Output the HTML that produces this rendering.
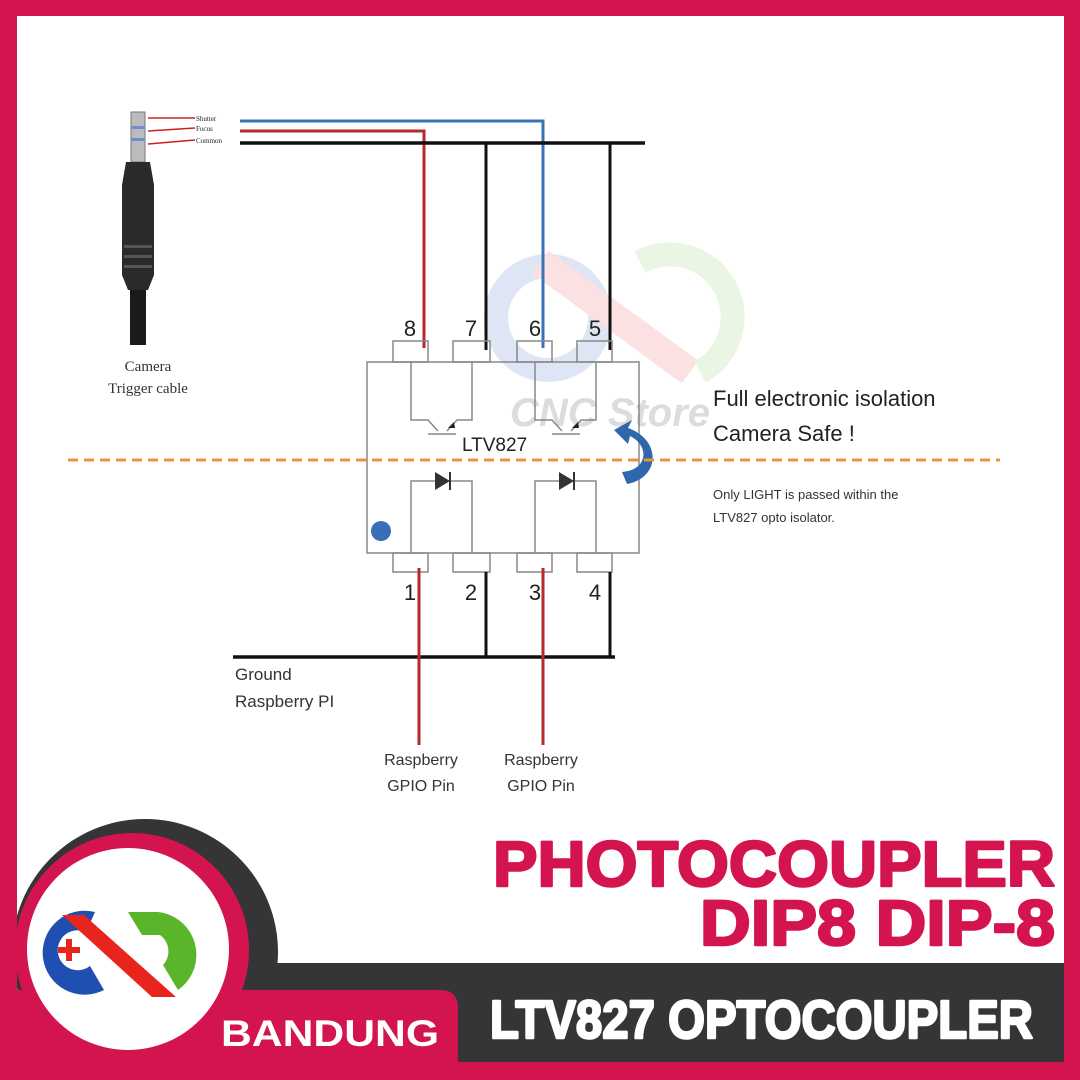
<!DOCTYPE html>
<html><head><meta charset="utf-8"><style>
html,body{margin:0;padding:0;}
body{width:1080px;height:1080px;position:relative;overflow:hidden;background:#fff;font-family:"Liberation Sans",sans-serif;}
svg{position:absolute;left:0;top:0;}
</style></head><body>
<svg width="1080" height="1080" viewBox="0 0 1080 1080">
<rect x="0" y="0" width="1080" height="1080" fill="#fff"/>
<!-- faint watermark -->
<g opacity="0.2">
<circle cx="548" cy="318" r="52" fill="none" stroke="#5d7fc9" stroke-width="24"/>
<path d="M540 262 L690 372" stroke="#f06f6f" stroke-width="28"/>
<path d="M640 262 A55 55 0 0 1 700 372" fill="none" stroke="#9bd27b" stroke-width="24"/>
<text x="510" y="426" font-size="40" font-weight="bold" fill="#555" font-style="italic">CNC Store</text>
</g>
<!-- jack -->
<rect x="131" y="112" width="14" height="50" fill="#bbb" stroke="#777"/>
<rect x="131" y="126" width="14" height="3" fill="#6a8ed0"/>
<rect x="131" y="138" width="14" height="3" fill="#6a8ed0"/>
<path d="M126 162 L150 162 L154 185 L154 275 L148 290 L128 290 L122 275 L122 185 Z" fill="#2a2a2a"/>
<g fill="#555"><rect x="124" y="245" width="28" height="3"/><rect x="124" y="255" width="28" height="3"/><rect x="124" y="265" width="28" height="3"/></g>
<rect x="130" y="290" width="16" height="55" fill="#1a1a1a"/>
<g stroke="#c22" stroke-width="1.5">
<line x1="148" y1="118" x2="195" y2="118"/><line x1="148" y1="131" x2="195" y2="128"/><line x1="148" y1="144" x2="195" y2="140"/>
</g>
<g font-size="7" font-family="Liberation Serif,serif" fill="#222"><text x="196" y="121">Shutter</text><text x="196" y="131">Focus</text><text x="196" y="143">Common</text></g>
<g font-family="Liberation Serif,serif" font-size="15" fill="#333" text-anchor="middle"><text x="148" y="371">Camera</text><text x="148" y="393">Trigger cable</text></g>
<!-- wires -->
<polyline points="240,121 543,121 543,348" fill="none" stroke="#3a72b8" stroke-width="3"/>
<polyline points="240,131 424,131 424,348" fill="none" stroke="#b52a2a" stroke-width="3"/>
<line x1="240" y1="143" x2="645" y2="143" stroke="#111" stroke-width="3.5"/>
<line x1="486" y1="143" x2="486" y2="350" stroke="#111" stroke-width="3"/>
<line x1="610" y1="143" x2="610" y2="350" stroke="#111" stroke-width="3"/>
<!-- chip -->
<g fill="none" stroke="#888" stroke-width="1.5">
<rect x="367" y="362" width="272" height="191"/>
<rect x="393" y="341" width="35" height="21"/><rect x="453" y="341" width="37" height="21"/><rect x="517" y="341" width="35" height="21"/><rect x="577" y="341" width="35" height="21"/>
<rect x="393" y="553" width="35" height="19"/><rect x="453" y="553" width="37" height="19"/><rect x="517" y="553" width="35" height="19"/><rect x="577" y="553" width="35" height="19"/>
<polyline points="411,362 411,420 428,420 438,431"/><polyline points="472,362 472,420 457,420 447,431"/>
<line x1="428" y1="434" x2="456" y2="434"/>
<polyline points="535,362 535,420 552,420 562,431"/><polyline points="596,362 596,420 581,420 571,431"/>
<line x1="552" y1="434" x2="580" y2="434"/>
<polyline points="411,553 411,481 472,481 472,553"/>
<polyline points="535,553 535,481 596,481 596,553"/>
</g>
<path d="M435 472 L450 481 L435 490Z M559 472 L574 481 L559 490Z" fill="#333"/>
<line x1="450" y1="472" x2="450" y2="490" stroke="#333" stroke-width="2"/><line x1="574" y1="472" x2="574" y2="490" stroke="#333" stroke-width="2"/>
<path d="M448 428 l6 -6 l1 6z M572 428 l6 -6 l1 6z" fill="#222"/>
<circle cx="381" cy="531" r="10" fill="#3a6fb8"/>
<g font-size="22" fill="#222" text-anchor="middle"><text x="410" y="336">8</text><text x="471" y="336">7</text><text x="535" y="336">6</text><text x="595" y="336">5</text>
<text x="410" y="600">1</text><text x="471" y="600">2</text><text x="535" y="600">3</text><text x="595" y="600">4</text></g>
<text x="462" y="451" font-size="19" fill="#222">LTV827</text>
<path d="M627 484 C660 478 662 440 628 428 L632 420 L614 430 L628 444 L630 436 C650 446 648 470 622 472 Z" fill="#2f67ad"/>
<line x1="68" y1="460" x2="1000" y2="460" stroke="#e8943a" stroke-width="3" stroke-dasharray="10,6"/>
<!-- bottom wires -->
<line x1="233" y1="657" x2="615" y2="657" stroke="#111" stroke-width="3.5"/>
<line x1="486" y1="572" x2="486" y2="657" stroke="#111" stroke-width="3"/>
<line x1="610" y1="572" x2="610" y2="657" stroke="#111" stroke-width="3"/>
<line x1="419" y1="568" x2="419" y2="745" stroke="#b52a2a" stroke-width="3"/>
<line x1="543" y1="568" x2="543" y2="745" stroke="#b52a2a" stroke-width="3"/>
<g font-size="17" fill="#333"><text x="235" y="680">Ground</text><text x="235" y="707">Raspberry PI</text></g>
<g font-size="16" fill="#333" text-anchor="middle"><text x="421" y="765">Raspberry</text><text x="421" y="791">GPIO Pin</text><text x="541" y="765">Raspberry</text><text x="541" y="791">GPIO Pin</text></g>
<text x="713" y="406" font-size="22" fill="#222">Full electronic isolation</text>
<text x="713" y="441" font-size="22" fill="#222">Camera Safe !</text>
<g font-size="13" fill="#333"><text x="713" y="499">Only LIGHT is passed within the</text><text x="713" y="522">LTV827 opto  isolator.</text></g>
<!-- bottom banner -->
<rect x="250" y="963" width="814" height="99" fill="#353537"/>
<circle cx="145" cy="952" r="133" fill="#353537"/>
<path d="M17 990 L440 990 Q458 990 458 1008 L458 1062 L17 1062Z" fill="#d3144f"/>
<circle cx="132" cy="950" r="117" fill="#d3144f"/>
<circle cx="128" cy="949" r="101" fill="#fff"/>
<path d="M95 912 A42 42 0 1 0 104 990 L90 966 A20 20 0 1 1 86 932 Z" fill="#1f4fb0"/>
<path d="M62 915 L84 915 L176 997 L152 997Z" fill="#e8251c"/>
<path d="M128 912 L158 912 A43 43 0 0 1 178 990 L163 965 A20 20 0 0 0 160 935 L142 935Z" fill="#5bb52a"/>
<path d="M58 947 h8 v-8 h6 v8 h8 v6 h-8 v8 h-6 v-8 h-8z" fill="#e8251c"/>
<text x="221" y="1046" font-size="37" font-weight="bold" fill="#fff" textLength="218" lengthAdjust="spacingAndGlyphs">BANDUNG</text>
<g font-weight="bold" text-anchor="end" stroke-width="2.5" stroke-linejoin="round">
<text x="1055" y="886" font-size="64" fill="#d3144f" stroke="#d3144f" textLength="562" lengthAdjust="spacingAndGlyphs">PHOTOCOUPLER</text>
<text x="1055" y="945" font-size="64" fill="#d3144f" stroke="#d3144f" textLength="355" lengthAdjust="spacingAndGlyphs">DIP8 DIP-8</text>
<text x="1033" y="1038" font-size="54" fill="#fff" stroke="#fff" textLength="543" lengthAdjust="spacingAndGlyphs">LTV827 OPTOCOUPLER</text>
</g>
<!-- frame on top -->
<path d="M0 0 H1080 V1080 H0Z M17 16 V1062 H1064 V16Z" fill="#d3144f" fill-rule="evenodd"/>
</svg>
</body></html>
